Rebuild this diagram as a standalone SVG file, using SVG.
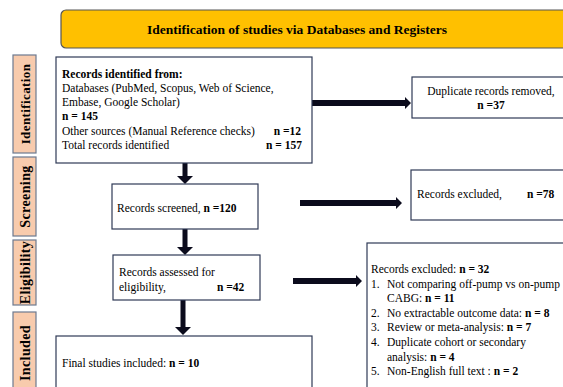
<svg xmlns="http://www.w3.org/2000/svg" width="563" height="387" viewBox="0 0 563 387" font-family="'Liberation Serif', 'Times New Roman', 'DejaVu Serif', serif">
<style>
text{font-family:'Liberation Serif','Times New Roman','DejaVu Serif',serif;fill:#000;font-size:11.5px}
.b{font-weight:bold}
.box{fill:#fff;stroke:#2f3a56;stroke-width:1.2}
.side{fill:#F8CBAD;stroke:#6d7a90;stroke-width:1.2}
.sl{font-weight:bold;font-size:14px;text-anchor:middle;letter-spacing:0.4px}
.tt{font-weight:bold;font-size:13.5px;text-anchor:middle}
.arr{fill:#0b0b1c}
</style>
<rect width="563" height="387" fill="#fff"/>
<g id="title">
<rect x="61" y="10" width="512" height="38" rx="5" ry="5" fill="#FFC000" stroke="#555" stroke-width="1.2"/>
<text x="297" y="34" class="tt">Identification of studies via Databases and Registers</text>
</g>
<g id="side-identification">
<rect x="13" y="55" width="23" height="98" class="side"/>
<text class="sl" style="font-size:13px" transform="translate(29.5,104) rotate(-90)">Identification</text>
</g>
<g id="side-screening">
<rect x="13" y="157" width="23" height="79" class="side"/>
<text class="sl" transform="translate(29.5,196.5) rotate(-90)">Screening</text>
</g>
<g id="side-eligibility">
<rect x="13" y="240" width="23" height="65" class="side"/>
<text class="sl" transform="translate(29.5,272.5) rotate(-90)">Eligibility</text>
</g>
<g id="side-included">
<rect x="13" y="312" width="23" height="80" class="side"/>
<text class="sl" transform="translate(29.5,353) rotate(-90)">Included</text>
</g>
<g id="connectors">
<path class="arr" d="M182.5,163 H187.5 V176 H193 L185,184 L177,176 H182.5 Z"/>
<path class="arr" d="M182.5,229 H187.5 V247 H193 L185,255 L177,247 H182.5 Z"/>
<path class="arr" d="M180.5,300 H185.5 V327 H191 L183,335 L175,327 H180.5 Z"/>
<path class="arr" d="M312,100 H405 V97 L411,103 L405,109 V106 H312 Z"/>
<path class="arr" d="M300,200 H396 V197 L402,203 L396,209 V206 H300 Z"/>
<path class="arr" d="M293,278 H356 V275 L362,281 L356,287 V284 H293 Z"/>
</g>
<g id="records-identified">
<rect x="56" y="57" width="256" height="106" class="box"/>
<text x="62" y="78" class="b">Records identified from:</text>
<text x="62" y="92">Databases (PubMed, Scopus, Web of Science,</text>
<text x="62" y="106">Embase, Google Scholar)</text>
<text x="62" y="120" class="b">n = 145</text>
<text x="62" y="134.5">Other sources (Manual Reference checks)</text>
<text x="301" y="134.5" class="b" text-anchor="end">n =12</text>
<text x="62" y="148.5">Total records identified</text>
<text x="302" y="148.5" class="b" text-anchor="end">n = 157</text>
</g>
<g id="duplicates-removed">
<rect x="412" y="77" width="160" height="41" class="box"/>
<text x="491" y="95" text-anchor="middle">Duplicate records removed,</text>
<text x="491" y="109" class="b" text-anchor="middle">n =37</text>
</g>
<g id="records-screened">
<rect x="112" y="184" width="146" height="45" class="box"/>
<text x="117" y="212">Records screened,  <tspan class="b">n =120</tspan></text>
</g>
<g id="records-excluded-78">
<rect x="411" y="170" width="160" height="50" class="box"/>
<text x="417" y="198">Records excluded,</text>
<text x="527" y="198" class="b">n =78</text>
</g>
<g id="records-assessed">
<rect x="113" y="255" width="147" height="45" class="box"/>
<text x="119" y="276">Records assessed for</text>
<text x="119" y="291">eligibility,</text>
<text x="217" y="291" class="b">n =42</text>
</g>
<g id="records-excluded-32">
<rect x="367" y="243" width="210" height="160" class="box"/>
<text x="371" y="273">Records excluded: <tspan class="b">n = 32</tspan></text>
<text x="371" y="287.6">1.</text><text x="387" y="287.6">Not comparing off-pump vs on-pump</text>
<text x="387" y="302.2">CABG: <tspan class="b">n = 11</tspan></text>
<text x="371" y="316.8">2.</text><text x="387" y="316.8">No extractable outcome data: <tspan class="b">n = 8</tspan></text>
<text x="371" y="331.4">3.</text><text x="387" y="331.4">Review or meta-analysis: <tspan class="b">n = 7</tspan></text>
<text x="371" y="346">4.</text><text x="387" y="346">Duplicate cohort or secondary</text>
<text x="387" y="360.6">analysis: <tspan class="b">n = 4</tspan></text>
<text x="371" y="375.2">5.</text><text x="387" y="375.2">Non-English full text : <tspan class="b">n = 2</tspan></text>
</g>
<g id="final-included">
<rect x="56" y="336" width="256" height="70" class="box"/>
<text x="62" y="367">Final studies included: <tspan class="b">n = 10</tspan></text>
</g>
</svg>
